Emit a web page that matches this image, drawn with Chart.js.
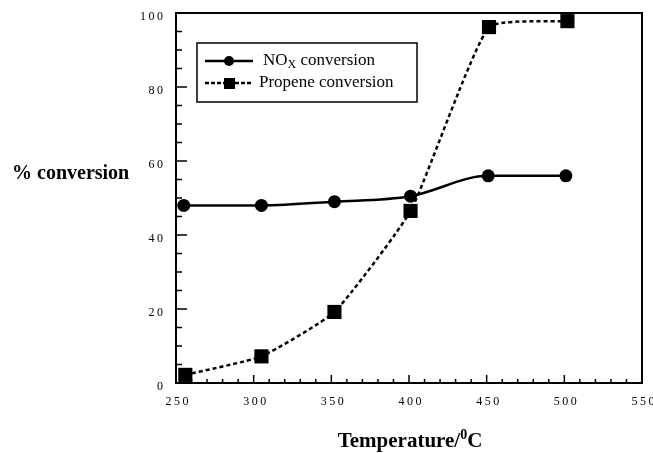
<!DOCTYPE html>
<html>
<head>
<meta charset="utf-8">
<script src="https://cdn.jsdelivr.net/npm/chart.js@4/dist/chart.umd.min.js"></script>
<style>
html,body{margin:0;padding:0;background:#fff;}
#wrap{width:653px;height:453px;}
</style>
</head>
<body>
<div id="wrap"><canvas id="c" width="653" height="453"></canvas></div>
<script>
// ---- data ----
const noxTemps = [255, 305, 352, 401, 451, 501];
const noxValues = [48, 48, 49, 50.5, 56, 56];
const propTemps = [256, 305, 352, 401, 451.5, 502];
const propValues = [2.2, 7.2, 19.2, 46.5, 96.2, 97.8];
const xTicks = [250, 300, 350, 400, 450, 500, 550];
const yTicks = [0, 20, 40, 60, 80, 100];
const seriesNames = ['NOx conversion', 'Propene conversion'];

const SERIF = '"Liberation Serif", "Times New Roman", serif';

function drawSpaced(ctx, text, x, y, align, sp) {
  const chars = text.split('');
  const widths = chars.map(c => ctx.measureText(c).width);
  const total = widths.reduce((a, b) => a + b, 0) + sp * (chars.length - 1);
  let sx = align === 'right' ? x - total : align === 'center' ? x - total / 2 : x;
  ctx.textAlign = 'left';
  chars.forEach((c, i) => { ctx.fillText(c, sx, y); sx += widths[i] + sp; });
}

const decor = {
  id: 'decor',
  afterDraw(chart) {
    const ctx = chart.ctx;
    const a = chart.chartArea;
    const xs = chart.scales.x, ys = chart.scales.y;
    ctx.save();
    ctx.strokeStyle = '#000';
    ctx.fillStyle = '#000';
    // frame
    ctx.lineWidth = 2;
    ctx.strokeRect(a.left, a.top, a.right - a.left, a.bottom - a.top);
    // ticks inward
    ctx.lineWidth = 1.5;
    ctx.beginPath();
    for (let v = 250; v <= 550; v += 10) {
      const px = xs.getPixelForValue(v);
      const len = (v % 50 === 0) ? 8 : 4;
      ctx.moveTo(px, a.bottom); ctx.lineTo(px, a.bottom - len);
    }
    for (let v = 0; v <= 100; v += 5) {
      const py = ys.getPixelForValue(v);
      const len = (v % 20 === 0) ? 11 : 6;
      ctx.moveTo(a.left, py); ctx.lineTo(a.left + len, py);
    }
    ctx.stroke();
    // tick labels
    ctx.font = '12px ' + SERIF;
    ctx.textBaseline = 'middle';
    xTicks.forEach(v => drawSpaced(ctx, String(v), xs.getPixelForValue(v) + 1, a.bottom + 19, 'center', 2.5));
    yTicks.forEach(v => drawSpaced(ctx, String(v), a.left - 13, ys.getPixelForValue(v) + 4, 'right', 2.5));
    // axis titles
    ctx.font = 'bold 20px ' + SERIF;
    ctx.textBaseline = 'alphabetic';
    ctx.textAlign = 'left';
    ctx.fillText('% conversion', 12, 179);
    // x title with superscript
    const p1 = 'Temperature/', p3 = 'C';
    ctx.font = 'bold 21px ' + SERIF;
    const w1 = ctx.measureText(p1).width, w3 = ctx.measureText(p3).width;
    ctx.font = 'bold 14px ' + SERIF;
    const w2 = ctx.measureText('0').width;
    let tx = 410 - (w1 + w2 + w3) / 2;
    const ty = 447;
    ctx.font = 'bold 21px ' + SERIF; ctx.fillText(p1, tx, ty); tx += w1;
    ctx.font = 'bold 14px ' + SERIF; ctx.fillText('0', tx, ty - 8); tx += w2;
    ctx.font = 'bold 21px ' + SERIF; ctx.fillText(p3, tx, ty);
    // legend
    ctx.lineWidth = 1.5;
    ctx.strokeRect(197, 43, 220, 59);
    // entry 1
    ctx.lineWidth = 2.5;
    ctx.setLineDash([]);
    ctx.beginPath(); ctx.moveTo(205, 61); ctx.lineTo(253, 61); ctx.stroke();
    ctx.beginPath(); ctx.arc(229, 61, 5, 0, Math.PI * 2); ctx.fill();
    ctx.font = '17px ' + SERIF;
    ctx.textBaseline = 'middle';
    let lx = 263;
    ctx.fillText('NO', lx, 61); lx += ctx.measureText('NO').width;
    ctx.font = '12px ' + SERIF;
    ctx.fillText('X', lx, 65); lx += ctx.measureText('X').width;
    ctx.font = '17px ' + SERIF;
    ctx.fillText(' conversion', lx, 61);
    // entry 2
    ctx.lineWidth = 2.5;
    ctx.setLineDash([4, 2]);
    ctx.beginPath(); ctx.moveTo(205, 83); ctx.lineTo(253, 83); ctx.stroke();
    ctx.setLineDash([]);
    ctx.fillRect(224, 78, 11, 11);
    ctx.fillText(seriesNames[1], 259, 83);
    ctx.restore();
  }
};

new Chart(document.getElementById('c'), {
  type: 'scatter',
  data: {
    datasets: [
      {
        label: seriesNames[0],
        data: noxTemps.map((t, i) => ({ x: t, y: noxValues[i] })),
        showLine: true,
        borderColor: '#000',
        backgroundColor: '#000',
        borderWidth: 2.5,
        cubicInterpolationMode: 'monotone',
        pointStyle: 'circle',
        pointRadius: 6.5,
        pointBorderWidth: 0,
        clip: false
      },
      {
        label: seriesNames[1],
        data: propTemps.map((t, i) => ({ x: t, y: propValues[i] })),
        showLine: true,
        borderColor: '#000',
        backgroundColor: '#000',
        borderWidth: 2.5,
        borderDash: [4, 3],
        tension: 0.15,
        pointStyle: 'rect',
        pointRadius: 10,
        pointBorderWidth: 0,
        clip: false
      }
    ]
  },
  options: {
    responsive: false,
    animation: false,
    devicePixelRatio: 1,
    layout: { padding: { left: 176, top: 13, right: 11, bottom: 70 } },
    plugins: { legend: { display: false }, tooltip: { enabled: false } },
    scales: {
      x: { type: 'linear', min: 250, max: 550, display: false },
      y: { type: 'linear', min: 0, max: 100, display: false }
    }
  },
  plugins: [decor]
});
</script>
</body>
</html>
